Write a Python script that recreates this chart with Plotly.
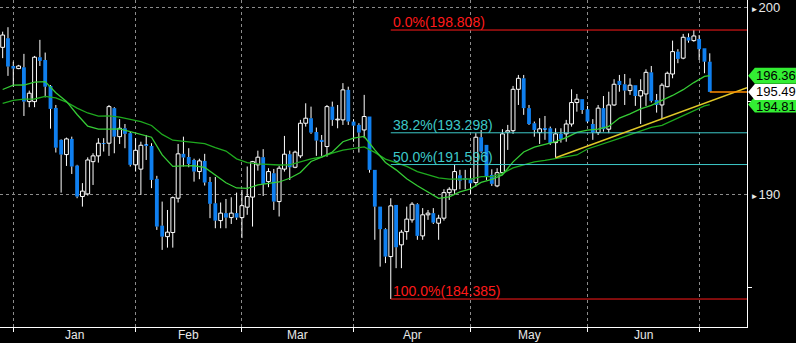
import pandas as pd
import plotly.graph_objects as go

# ---------------- data ----------------
dates = pd.bdate_range("2024-12-30", "2025-07-03")

open_ = [197.88,198.37,196.88,196.74,196.81,194.97,194.97,197.35,197.20,195.81,
         194.63,192.92,192.13,192.97,191.54,189.88,190.02,191.75,192.06,192.75,
         192.74,194.62,193.09,193.54,193.28,191.58,191.35,192.65,192.59,190.83,
         188.32,187.73,187.95,189.79,192.17,192.00,191.84,191.22,191.79,190.66,
         189.52,188.59,188.99,188.75,188.99,188.75,189.31,189.85,191.58,191.99,
         190.68,191.13,189.61,191.35,192.15,191.45,192.06,193.81,194.08,193.34,
         192.92,192.56,194.70,193.99,193.99,195.60,193.90,193.72,193.45,194.17,
         191.31,189.34,188.13,186.66,189.43,187.29,188.00,188.63,189.47,187.77,
         188.90,188.99,188.45,188.72,190.09,190.24,191.02,190.86,190.81,190.63,
         193.06,192.65,191.04,190.45,191.16,193.33,193.41,195.63,196.22,194.62,
         193.81,193.31,193.54,193.54,192.77,193.24,193.24,193.77,194.92,195.10,
         194.56,193.77,193.31,194.62,193.49,194.79,196.08,195.90,195.56,195.85,
         195.27,195.38,196.54,195.06,194.79,195.77,196.45,197.65,197.30,198.42,
         198.24,198.33,197.83,197.11]
high = [198.72,198.96,197.11,196.94,197.53,195.56,197.42,198.28,197.60,195.86,
        194.79,192.95,193.04,193.09,191.58,190.60,191.98,192.20,193.01,193.01,
        194.79,194.67,194.03,193.77,193.36,193.01,192.82,193.18,192.74,190.99,
        189.61,189.16,189.88,192.70,193.09,192.47,191.91,191.91,192.17,190.93,
        190.93,189.56,189.75,189.84,190.09,190.24,191.49,191.79,192.34,192.42,
        191.40,191.36,191.52,193.13,192.34,192.34,193.99,194.88,194.70,193.58,
        193.18,194.79,194.97,194.79,195.96,195.77,194.03,193.81,195.33,194.17,
        191.31,189.34,188.18,189.79,189.43,188.09,189.34,189.58,189.52,189.26,
        189.16,189.26,188.90,190.27,190.38,191.58,191.31,191.31,191.40,193.28,
        193.45,192.65,191.34,191.40,193.49,193.72,195.81,196.40,196.40,194.79,
        193.90,194.08,194.20,193.63,193.54,193.54,193.99,195.63,195.38,195.10,
        194.74,194.03,194.79,195.27,195.50,196.17,196.40,196.45,196.22,195.85,
        196.17,196.70,196.88,195.38,195.96,196.58,198.24,197.78,198.60,198.63,
        198.808,198.54,197.83,197.56]
low = [197.30,196.35,195.77,196.71,194.20,194.67,194.67,196.88,195.20,193.52,
       192.24,190.09,191.52,191.09,189.79,189.34,189.93,190.50,191.70,192.29,
       192.06,192.20,192.70,192.47,191.49,191.22,189.97,191.84,190.33,188.09,
       187.02,187.14,187.14,189.56,191.49,191.45,190.68,190.81,190.47,188.72,
       188.18,188.18,188.18,188.41,188.63,187.65,188.90,188.27,191.27,189.91,
       190.38,189.16,188.81,191.22,190.77,191.40,191.94,193.63,193.24,192.06,
       192.06,192.02,193.67,193.54,193.72,193.72,192.82,192.24,193.01,191.16,
       187.56,186.12,186.31,184.385,186.04,186.04,187.56,188.48,187.56,187.56,
       188.63,188.41,187.56,188.59,189.70,190.02,190.27,190.27,190.02,190.41,
       192.22,190.77,190.45,190.38,191.04,192.38,193.24,194.79,194.26,193.72,
       193.09,192.70,192.92,192.65,191.96,192.77,192.82,193.63,194.43,194.31,
       193.81,192.92,193.18,193.36,193.28,194.74,195.50,194.79,195.33,194.74,
       193.77,194.74,194.92,194.38,194.03,195.74,196.22,197.03,197.24,198.13,
       198.18,197.20,196.49,195.49]
close = [198.54,196.85,196.74,196.88,194.97,195.42,197.35,197.15,195.77,194.58,
         192.50,192.13,192.97,191.49,189.88,190.17,191.84,192.06,192.74,192.72,
         194.70,193.09,193.54,193.24,191.58,192.36,192.63,192.59,190.77,188.27,
         187.73,187.97,189.82,192.17,191.97,191.63,191.22,191.79,190.63,189.49,
         188.59,188.99,188.75,188.99,188.75,189.39,189.88,191.75,191.99,190.56,
         191.22,189.61,191.40,192.15,191.45,192.26,193.81,194.08,193.31,192.88,
         192.82,194.70,193.99,194.03,195.60,193.90,193.68,193.31,194.17,191.31,
         189.34,188.13,186.66,189.38,187.16,187.97,188.67,189.47,187.77,188.90,
         188.99,188.48,188.72,190.09,190.27,191.22,190.73,190.81,190.59,193.06,
         192.29,190.95,190.56,191.16,193.24,193.41,195.63,196.22,194.62,193.77,
         193.45,193.51,193.49,192.74,193.24,192.97,193.77,194.92,195.10,194.52,
         193.90,193.31,194.62,193.49,194.79,195.90,195.86,195.56,195.85,195.27,
         195.56,196.54,195.01,194.79,195.85,196.49,197.65,197.26,198.42,198.24,
         198.49,197.78,197.11,195.49]

# moving averages, read every second session (plus the last one)
ma_fast = [195.62,195.85,195.86,196.01,196.04,195.45,194.98,194.28,193.65,193.49,
           193.49,193.51,193.36,193.21,193.06,192.11,191.50,191.52,191.53,191.44,
           191.01,190.62,190.34,190.32,190.50,190.56,190.66,190.86,191.17,191.76,
           191.99,192.27,192.82,193.01,193.10,192.38,191.71,191.31,190.83,190.46,
           190.13,189.78,189.86,190.13,190.29,190.64,190.80,191.04,191.74,192.27,
           192.53,192.69,192.82,193.04,193.32,193.44,193.49,193.64,194.09,194.31,
           194.58,194.77,195.02,195.30,195.61,195.99,196.32,196.36]
ma_slow = [194.88,195.04,195.10,195.11,195.25,195.17,194.94,194.62,194.36,194.19,
           194.20,194.14,194.02,193.90,193.69,193.21,192.90,192.85,192.79,192.72,
           192.50,192.32,191.90,191.70,191.63,191.59,191.57,191.58,191.73,191.90,
           192.00,192.21,192.37,192.47,192.54,192.25,191.89,191.70,191.50,191.22,
           191.03,190.88,190.81,190.81,190.82,190.95,190.95,191.12,191.42,191.58,
           191.74,191.82,191.92,192.00,192.11,192.43,192.61,192.79,193.00,193.20,
           193.38,193.59,193.70,193.96,194.23,194.47,194.74,194.81]

fib_pcts = ["0.0%", "38.2%", "50.0%", "100.0%"]
fib_levels = [198.808, 193.298, 191.596, 184.385]
fib_colors = ["#ff1a1a", "#3cc8c8", "#3cc8c8", "#ff1a1a"]

trend_start_date = "2025-05-23"
trend_values = [191.96, 195.72]

tag_values = [196.36, 194.81, 195.49]
tag_colors = ["#33ee33", "#33ee33", "#ffffff"]

month_names = ["Jan", "Feb", "Mar", "Apr", "May", "Jun"]

# ---------------- derived ----------------
n = len(dates)
xs = list(range(n))
X_MIN, X_MAX = -0.5, 140.0
Y_MIN, Y_MAX = 182.885, 200.418

month_starts = [i for i in range(1, n) if dates[i].month != dates[i - 1].month]
mids = [(month_starts[k] + month_starts[k + 1]) / 2 for k in range(len(month_names))]

ma_x = xs[::2] + [xs[-1]]

fig = go.Figure()

# wicks (outside the bodies)
wx, wy = [], []
for i in xs:
    top = max(open_[i], close[i]); bot = min(open_[i], close[i])
    wx += [i, i, None, i, i, None]
    wy += [high[i], top, None, bot, low[i], None]
fig.add_trace(go.Scatter(x=wx, y=wy, mode="lines", line=dict(color="white", width=1),
                         hoverinfo="skip"))

up = [i for i in xs if close[i] >= open_[i]]
dn = [i for i in xs if close[i] < open_[i]]
fig.add_trace(go.Bar(x=up, y=[close[i] - open_[i] for i in up], base=[open_[i] for i in up],
                     width=0.72, marker=dict(color="black", line=dict(color="white", width=1))))
fig.add_trace(go.Bar(x=dn, y=[open_[i] - close[i] for i in dn], base=[close[i] for i in dn],
                     width=0.72, marker=dict(color="#0f7fef", line=dict(width=0))))

# moving averages
fig.add_trace(go.Scatter(x=ma_x, y=ma_slow, mode="lines", line=dict(color="#1faa1f", width=1.3)))
fig.add_trace(go.Scatter(x=ma_x, y=ma_fast, mode="lines", line=dict(color="#36cc36", width=1.3)))

# fibonacci
fib_start = low.index(min(low))
for pct, lvl, col in zip(fib_pcts, fib_levels, fib_colors):
    fig.add_trace(go.Scatter(x=[fib_start, X_MAX], y=[lvl, lvl], mode="lines",
                             line=dict(color=col, width=1)))
    fig.add_annotation(x=fib_start, y=lvl, xref="x", yref="y", xanchor="left", yanchor="bottom",
                       text=f"{pct}({lvl:.3f})", showarrow=False, xshift=0, yshift=-2,
                       font=dict(color=col, size=14, family="Liberation Sans, Arial"))

# trend line
t0 = list(dates.strftime("%Y-%m-%d")).index(trend_start_date)
fig.add_trace(go.Scatter(x=[t0, X_MAX], y=trend_values, mode="lines",
                         line=dict(color="#e0c828", width=1.5)))

# last price line
fig.add_trace(go.Scatter(x=[xs[-1], X_MAX], y=[close[-1], close[-1]], mode="lines",
                         line=dict(color="#ff8c00", width=1.5)))

# price tags on the right
h = 0.43
tag_shift = {196.36: 0, 194.81: -1.5, 195.49: 0}
for val, col in zip(tag_values, tag_colors):
    fig.add_shape(type="path", xref="paper", yref="y", layer="above",
                  path=f"M 1.0015,{val} L 1.0105,{val + h} L 1.09,{val + h} L 1.09,{val - h} L 1.0105,{val - h} Z",
                  fillcolor=col, line=dict(width=0))
    fig.add_annotation(x=1.0105, y=val, xref="paper", yref="y", xanchor="left", yanchor="middle",
                       text=f"{val:.2f}", showarrow=False, yshift=tag_shift[val],
                       borderpad=0, font=dict(color="black", size=13, family="Liberation Sans, Arial"))

# month labels under the axis
for m, name in zip(mids, month_names):
    fig.add_annotation(x=m, y=0, xref="x", yref="paper", xanchor="center", yanchor="top",
                       text=name, showarrow=False, borderpad=0, yshift=0,
                       font=dict(color="#e8e8e8", size=12, family="Liberation Sans, Arial"))

fig.update_layout(
    width=796, height=343, margin=dict(l=0, r=49, t=0, b=16, autoexpand=False),
    paper_bgcolor="black", plot_bgcolor="black", showlegend=False,
    barmode="overlay", hovermode=False,
    font=dict(family="Liberation Sans, Arial", color="white", size=13),
    xaxis=dict(range=[X_MIN, X_MAX], showgrid=False, zeroline=False, automargin=False,
               tickmode="array", tickvals=month_starts, showticklabels=False,
               ticks="outside", ticklen=4, tickcolor="white",
               showline=True, linecolor="white", linewidth=1,
               minor=dict(tickmode="array", tickvals=month_starts, showgrid=True,
                          gridcolor="#8c8c8c", griddash="3px,3px", gridwidth=1,
                          ticks="", )),
    yaxis=dict(range=[Y_MIN, Y_MAX], side="right", zeroline=False, automargin=False,
               tickmode="array", tickvals=[190, 200],
               ticktext=['<span style="font-size:8px">►</span>190',
                         '<span style="font-size:8px">►</span>200'],
               ticks="", showgrid=True, gridcolor="#8c8c8c", griddash="3px,3px", gridwidth=1,
               tickfont=dict(size=13, color="#e8e8e8"), ticklabeloverflow="allow",
               showline=True, linecolor="white", linewidth=1,
               minor=dict(tickmode="array", tickvals=[185, 195], ticks="outside", ticklen=4,
                          tickcolor="white", showgrid=False)),
)

fig.write_html("out.html")
